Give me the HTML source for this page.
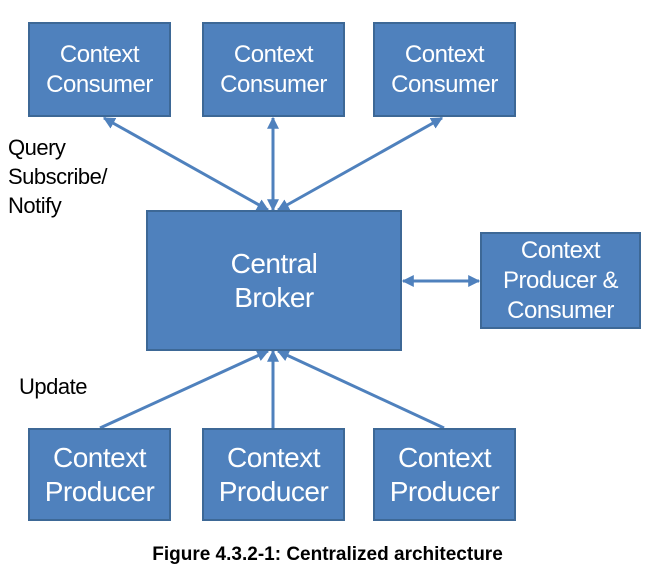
<!DOCTYPE html>
<html><head><style>
body{margin:0;background:#fff;width:655px;height:574px;position:relative;overflow:hidden;font-family:"Liberation Sans",Arial,sans-serif}
.b{position:absolute;background:#4f81bd;border:2px solid #3d6896;box-sizing:border-box;color:#fff;display:flex;align-items:center;justify-content:center;text-align:center;font-size:24px;line-height:30px;letter-spacing:-0.5px}
.l{position:absolute;font-size:22px;color:#000;line-height:29px;letter-spacing:-0.5px}
</style></head><body>
<svg width="655" height="574" style="position:absolute;left:0;top:0">
<defs><marker id="a" viewBox="0 0 10 10" refX="9" refY="5" markerWidth="4" markerHeight="4" orient="auto-start-reverse"><path d="M0,0 L10,5 L0,10 z" fill="#4f81bd"/></marker></defs>
<g stroke="#4f81bd" stroke-width="3" fill="none">
<line x1="104" y1="118" x2="268" y2="210" marker-start="url(#a)" marker-end="url(#a)"/>
<line x1="273" y1="118" x2="273" y2="210" marker-start="url(#a)" marker-end="url(#a)"/>
<line x1="442" y1="118" x2="278" y2="210" marker-start="url(#a)" marker-end="url(#a)"/>
<line x1="100" y1="428" x2="268" y2="351" marker-end="url(#a)"/>
<line x1="273" y1="428" x2="273" y2="351" marker-end="url(#a)"/>
<line x1="444" y1="428" x2="278" y2="351" marker-end="url(#a)"/>
<line x1="403" y1="281" x2="479" y2="281" marker-start="url(#a)" marker-end="url(#a)"/>
</g></svg>
<div class="b" style="left:28px;top:22px;width:143px;height:95px">Context<br>Consumer</div>
<div class="b" style="left:202px;top:22px;width:143px;height:95px">Context<br>Consumer</div>
<div class="b" style="left:373px;top:22px;width:143px;height:95px">Context<br>Consumer</div>
<div class="b" style="left:146px;top:210px;width:256px;height:141px;font-size:28px;line-height:34px">Central<br>Broker</div>
<div class="b" style="left:480px;top:232px;width:161px;height:97px">Context<br>Producer &amp;<br>Consumer</div>
<div class="b" style="left:28px;top:428px;width:143px;height:93px;font-size:28px;line-height:34px">Context<br>Producer</div>
<div class="b" style="left:202px;top:428px;width:143px;height:93px;font-size:28px;line-height:34px">Context<br>Producer</div>
<div class="b" style="left:373px;top:428px;width:143px;height:93px;font-size:28px;line-height:34px">Context<br>Producer</div>
<div class="l" style="left:8px;top:133px">Query<br>Subscribe/<br>Notify</div>
<div class="l" style="left:19px;top:372px">Update</div>
<div style="position:absolute;left:0;width:655px;top:544px;text-align:center;font-weight:bold;font-size:19px">Figure 4.3.2-1: Centralized architecture</div>
</body></html>
